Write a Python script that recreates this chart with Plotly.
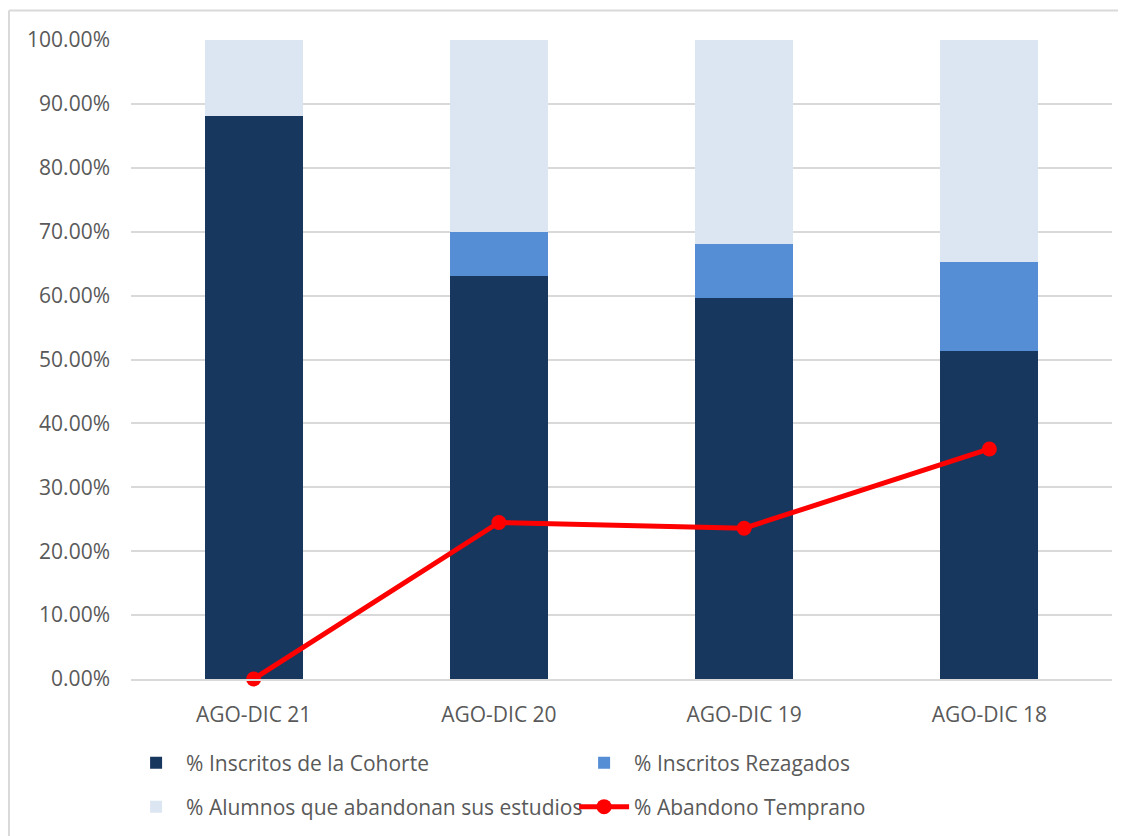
import plotly.graph_objects as go

# Datos
periodos = ["AGO-DIC 21", "AGO-DIC 20", "AGO-DIC 19", "AGO-DIC 18"]
cohorte = [0.881, 0.631, 0.597, 0.514]
rezagados = [0.0, 0.068, 0.084, 0.139]
abandonan = [0.119, 0.301, 0.319, 0.347]
abandono_temprano = [0.0, 0.245, 0.236, 0.360]

font_family = "Open Sans, Noto Sans, sans-serif"
gray_text = "#595959"
grid_color = "#d9d9d9"

fig = go.Figure()

fig.add_trace(go.Bar(x=periodos, y=cohorte, name="% Inscritos de la Cohorte",
                     marker=dict(color="#17375E", line=dict(width=0)), legend="legend"))
fig.add_trace(go.Bar(x=periodos, y=rezagados, name="% Inscritos Rezagados",
                     marker=dict(color="#558ED5", line=dict(width=0)), legend="legend"))
fig.add_trace(go.Bar(x=periodos, y=abandonan, name="% Alumnos que abandonan sus estudios",
                     marker=dict(color="#DCE6F2", line=dict(width=0)), legend="legend2"))
fig.add_trace(go.Scatter(x=periodos, y=abandono_temprano, name="% Abandono Temprano",
                         mode="lines+markers", cliponaxis=False,
                         line=dict(color="#FF0000", width=5),
                         marker=dict(color="#FF0000", size=15), legend="legend2"))

# borde exterior del area del grafico (arriba e izquierda)
fig.add_shape(type="line", xref="paper", yref="paper",
              x0=-0.1244, x1=1.02, y0=1.0462, y1=1.0462,
              line=dict(color=grid_color, width=2))
fig.add_shape(type="line", xref="paper", yref="paper",
              x0=-0.1244, x1=-0.1244, y0=1.0462, y1=-0.3,
              line=dict(color=grid_color, width=2))

legend_style = dict(orientation="h", x=-0.005, xanchor="left", yanchor="middle",
                    traceorder="normal", entrywidth=383, entrywidthmode="pixels",
                    font=dict(size=21, color=gray_text), itemwidth=50,
                    bgcolor="rgba(0,0,0,0)")

fig.update_layout(
    width=1118, height=828,
    margin=dict(l=123, r=14, t=32, b=157, autoexpand=False),
    barmode="stack",
    bargap=0.6,
    plot_bgcolor="white",
    paper_bgcolor="white",
    font=dict(family=font_family, size=21, color=gray_text),
    showlegend=True,
    legend=dict(legend_style, y=-0.1315),
    legend2=dict(legend_style, y=-0.2003),
)

fig.update_xaxes(showgrid=False, showline=True, linecolor=grid_color, linewidth=2,
                 ticks="", ticklabelstandoff=16,
                 tickfont=dict(size=21, color=gray_text))
fig.update_yaxes(range=[0, 1], dtick=0.1, tickformat=".2%",
                 showgrid=True, gridcolor=grid_color, gridwidth=2,
                 zeroline=False, showline=False, ticks="", ticklabelstandoff=20,
                 tickfont=dict(size=21, color=gray_text))

fig.write_html("out.html")
